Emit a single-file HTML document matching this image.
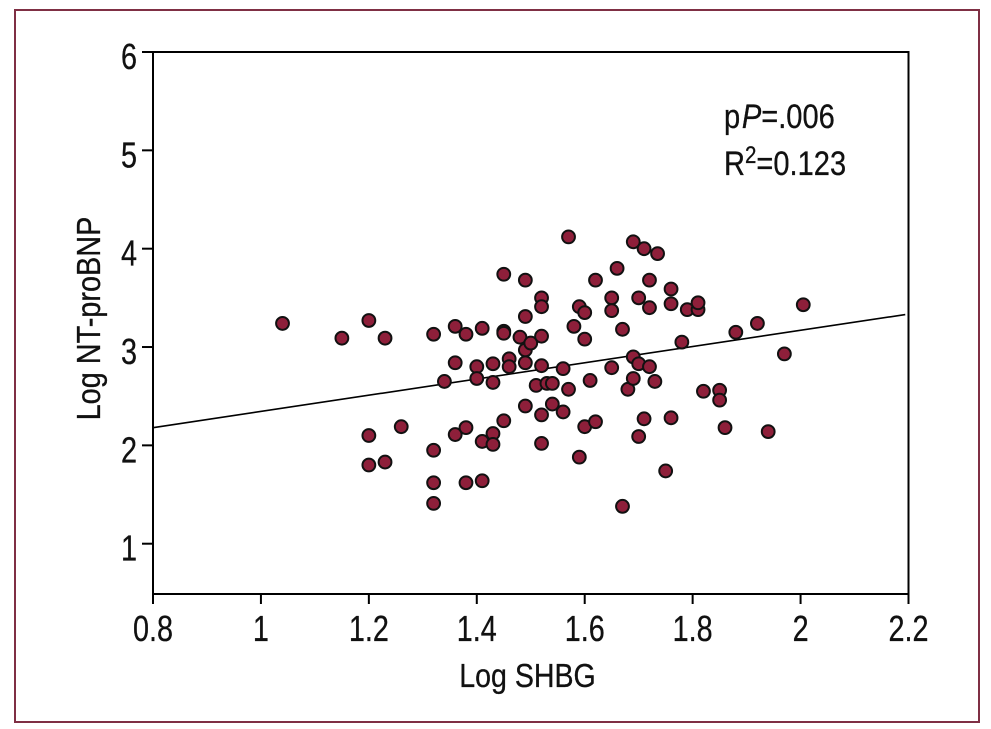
<!DOCTYPE html>
<html lang="en">
<head>
<meta charset="utf-8">
<title>Log NT-proBNP vs Log SHBG</title>
<style>
html,body{margin:0;padding:0;background:#fff;}
svg{display:block;}
text{font-family:"Liberation Sans",sans-serif;fill:#111;stroke:#111;stroke-width:0.3px;}
</style>
</head>
<body>
<svg id="chart" xmlns="http://www.w3.org/2000/svg" width="991" height="729" viewBox="0 0 991 729">
  <rect x="0" y="0" width="991" height="729" fill="#ffffff"/>
  <rect x="15" y="10" width="964" height="712" fill="none" stroke="#7f2f44" stroke-width="2"/>
  <g id="axes"></g>
  <g id="line"></g>
  <g id="points"></g>
  <g id="labels"></g>
  <text transform="translate(527.5,687) scale(0.865,1)" text-anchor="middle" font-size="33">Log SHBG</text>
  <text transform="translate(100,318.5) rotate(-90) scale(0.875,1)" text-anchor="middle" font-size="33">Log NT-proBNP</text>
  <text transform="translate(724,128) scale(0.855,1)" font-size="34">p<tspan font-style="italic" dx="2">P</tspan>=.006</text>
  <text transform="translate(724,175) scale(0.855,1)" font-size="34">R<tspan font-size="24" dy="-12">2</tspan><tspan dy="12">=0.123</tspan></text>
</svg>
<script>
const xTickValues = [0.8, 1, 1.2, 1.4, 1.6, 1.8, 2, 2.2];
const xTickLabels = ["0.8", "1", "1.2", "1.4", "1.6", "1.8", "2", "2.2"];
const yTickValues = [1, 2, 3, 4, 5, 6];
const yTickLabels = ["1", "2", "3", "4", "5", "6"];
const logSHBG = [
  1.04,1.15,1.2,1.23,1.2,1.2,1.23,1.26,1.32,1.32,1.32,1.32,1.34,1.36,1.36,1.36,1.38,1.38,1.38,1.41,
  1.4,1.4,1.41,1.41,1.43,1.43,1.43,1.43,1.45,1.45,1.45,1.45,1.46,1.46,1.48,1.49,1.49,1.49,1.49,1.49,
  1.5,1.52,1.52,1.52,1.52,1.51,1.52,1.52,1.53,1.54,1.54,1.56,1.56,1.57,1.58,1.57,1.59,1.59,1.6,1.6,
  1.6,1.62,1.62,1.61,1.65,1.65,1.65,1.66,1.67,1.67,1.68,1.69,1.69,1.69,1.71,1.735,1.7,1.7,1.7,1.72,
  1.72,1.72,1.71,1.73,1.75,1.76,1.76,1.76,1.79,1.78,1.81,1.81,1.82,1.85,1.85,1.86,1.88,1.92,1.94,1.97,2.005
];
const logNTproBNP = [
  3.24,3.09,3.27,3.09,2.1,1.8,1.83,2.19,3.13,1.95,1.62,1.41,2.65,3.21,2.84,2.11,3.13,2.18,1.62,1.64,
  2.8,2.68,3.19,2.04,2.12,2.01,2.83,2.64,3.16,3.14,3.74,2.25,2.88,2.8,3.1,3.31,3.68,2.4,2.97,2.84,
  3.04,3.5,3.41,3.11,2.81,2.61,2.31,2.02,2.63,2.63,2.42,2.78,2.34,4.12,3.21,2.57,1.88,3.41,3.35,3.08,
  2.19,2.24,3.68,2.66,3.5,3.37,2.79,3.8,3.18,1.38,2.57,2.68,2.9,4.07,4,3.95,3.5,2.83,2.09,3.4,
  3.68,2.8,2.27,2.65,1.74,3.59,3.44,2.28,3.38,3.05,3.38,3.45,2.55,2.56,2.46,2.18,3.15,3.24,2.14,2.93,3.43
];
const fitX = [0.8, 2.194];
const fitY = [2.18, 3.33];

const NS = "http://www.w3.org/2000/svg";
const xScale = v => 153 + (v - 0.8) * (908.5 - 153) / 1.4;
const yScale = v => 52 + (6 - v) * (543.7 - 52) / 5;
const axisBottom = 594;
const axisLeft = xScale(0.8);
const axisRight = xScale(2.2);
const axisTop = yScale(6);

const axes = document.getElementById("axes");
const labels = document.getElementById("labels");

function axisLine(x1, y1, x2, y2) {
  const el = document.createElementNS(NS, "line");
  el.setAttribute("x1", x1);
  el.setAttribute("y1", y1);
  el.setAttribute("x2", x2);
  el.setAttribute("y2", y2);
  el.setAttribute("stroke", "#000");
  el.setAttribute("stroke-width", "2");
  axes.appendChild(el);
  return el;
}

const leftAxis = axisLine(axisLeft, axisTop - 1, axisLeft, axisBottom + 1);


const bottomAxis = axisLine(axisLeft - 1, axisBottom, axisRight + 1, axisBottom);


const topAxis = axisLine(axisLeft - 1, axisTop, axisRight + 1, axisTop);


const rightAxis = axisLine(axisRight, axisTop - 1, axisRight, axisBottom + 1);



yTickValues.forEach((v, i) => {
  const tick = axisLine(142, yScale(v), axisLeft, yScale(v));
  
  
  const t = document.createElementNS(NS, "text");
  
  
  t.setAttribute("transform", "translate(137," + (yScale(v) + 17) + ") scale(0.8,1)");
  t.setAttribute("text-anchor", "end");
  t.setAttribute("font-size", "36");
  t.textContent = yTickLabels[i];
  labels.appendChild(t);
});

xTickValues.forEach((v, i) => {
  const tick = axisLine(xScale(v), axisBottom, xScale(v), 604);
  
  
  const t = document.createElementNS(NS, "text");
  
  
  t.setAttribute("transform", "translate(" + xScale(v) + ",641) scale(0.8,1)");
  t.setAttribute("text-anchor", "middle");
  t.setAttribute("font-size", "36");
  t.textContent = xTickLabels[i];
  labels.appendChild(t);
});

const fit = document.createElementNS(NS, "line");


fit.setAttribute("x1", xScale(fitX[0]));
fit.setAttribute("y1", yScale(fitY[0]));
fit.setAttribute("x2", xScale(fitX[1]));
fit.setAttribute("y2", yScale(fitY[1]));
fit.setAttribute("stroke", "#000");
fit.setAttribute("stroke-width", "1.6");
document.getElementById("line").appendChild(fit);

const pointsGroup = document.getElementById("points");
logSHBG.forEach((x, i) => {
  const c = document.createElementNS(NS, "circle");
  
  
  c.setAttribute("cx", xScale(x));
  c.setAttribute("cy", yScale(logNTproBNP[i]));
  c.setAttribute("r", "6.4");
  c.setAttribute("fill", "#8e1f3a");
  c.setAttribute("stroke", "#111");
  c.setAttribute("stroke-width", "2");
  pointsGroup.appendChild(c);
});
</script>
</body>
</html>
